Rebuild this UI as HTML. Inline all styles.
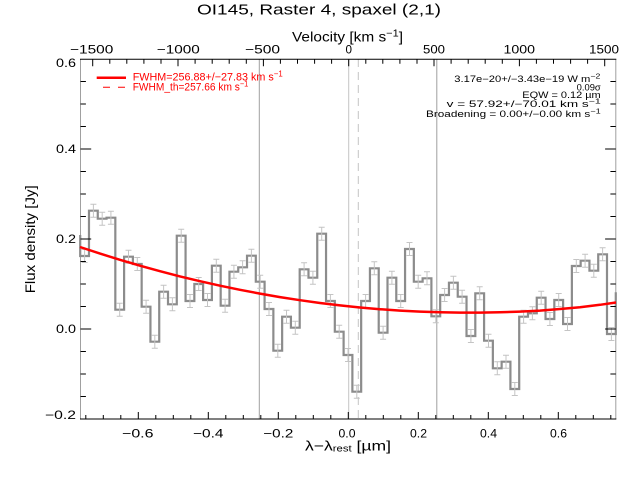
<!DOCTYPE html>
<html>
<head>
<meta charset="utf-8">
<style>
html,body{margin:0;padding:0;background:#fff;}
svg{display:block;}
text{font-family:"Liberation Sans",sans-serif;}
</style>
</head>
<body>
<svg width="640" height="480" viewBox="0 0 640 480" xmlns="http://www.w3.org/2000/svg">
<rect width="640" height="480" fill="#fff"/>

<!-- Title -->
<text x="197" y="14.5" font-size="15" textLength="244" lengthAdjust="spacingAndGlyphs">OI145, Raster 4, spaxel (2,1)</text>
<!-- Velocity label -->
<text x="292" y="41.5" font-size="14" textLength="111" lengthAdjust="spacingAndGlyphs">Velocity [km s<tspan dy="-5" font-size="10">−1</tspan><tspan dy="5">]</tspan></text>

<!-- top tick labels -->
<g font-size="12">
<text x="70" y="53.5" textLength="43.3" lengthAdjust="spacingAndGlyphs">−1500</text>
<text x="156.8" y="53.5" textLength="43" lengthAdjust="spacingAndGlyphs">−1000</text>
<text x="245" y="53.5" textLength="35" lengthAdjust="spacingAndGlyphs">−500</text>
<text x="345.5" y="53.5" textLength="6.5" lengthAdjust="spacingAndGlyphs">0</text>
<text x="423" y="53.5" textLength="22" lengthAdjust="spacingAndGlyphs">500</text>
<text x="503.5" y="53.5" textLength="31.5" lengthAdjust="spacingAndGlyphs">1000</text>
<text x="589" y="53.5" textLength="30" lengthAdjust="spacingAndGlyphs">1500</text>
</g>

<!-- bottom tick labels -->
<g font-size="12">
<text x="122" y="437.7" textLength="31.5" lengthAdjust="spacingAndGlyphs">−0.6</text>
<text x="193" y="437.7" textLength="30.5" lengthAdjust="spacingAndGlyphs">−0.4</text>
<text x="263.3" y="437.7" textLength="30" lengthAdjust="spacingAndGlyphs">−0.2</text>
<text x="338.5" y="437.7" textLength="17" lengthAdjust="spacingAndGlyphs">0.0</text>
<text x="410" y="437.7" textLength="17" lengthAdjust="spacingAndGlyphs">0.2</text>
<text x="480" y="437.7" textLength="17" lengthAdjust="spacingAndGlyphs">0.4</text>
<text x="550" y="437.7" textLength="17" lengthAdjust="spacingAndGlyphs">0.6</text>
</g>

<!-- left tick labels -->
<g font-size="12">
<text x="56" y="67" textLength="20" lengthAdjust="spacingAndGlyphs">0.6</text>
<text x="56" y="153" textLength="20" lengthAdjust="spacingAndGlyphs">0.4</text>
<text x="56" y="243" textLength="20" lengthAdjust="spacingAndGlyphs">0.2</text>
<text x="56" y="333" textLength="20" lengthAdjust="spacingAndGlyphs">0.0</text>
<text x="45" y="419" textLength="31" lengthAdjust="spacingAndGlyphs">−0.2</text>
</g>

<!-- x label -->
<text x="305" y="450.5" font-size="14" textLength="86" lengthAdjust="spacingAndGlyphs">λ−λ<tspan font-size="9" dy="1">rest</tspan><tspan dy="-1"> [µm]</tspan></text>
<!-- y label -->
<text transform="translate(35,293.3) rotate(-90)" x="0" y="0" font-size="14" textLength="108" lengthAdjust="spacingAndGlyphs">Flux density [Jy]</text>

<!-- reference vertical lines -->
<g stroke-width="1" fill="none">
<line x1="80.5" y1="59" x2="80.5" y2="419" stroke="#a0a0a0"/>
<line x1="615.8" y1="59" x2="615.8" y2="419" stroke="#a0a0a0"/>
<line x1="259.3" y1="59" x2="259.3" y2="419" stroke="#a0a0a0"/>
<line x1="436.8" y1="59" x2="436.8" y2="419" stroke="#a0a0a0"/>
<line x1="348.7" y1="59" x2="348.7" y2="419" stroke="#c4c4c4"/>
<line x1="358.3" y1="59" x2="358.3" y2="419" stroke="#c4c4c4" stroke-dasharray="8,5"/>
</g>

<!-- histogram -->
<path fill="none" stroke="#8c8c8c" stroke-width="2.2" stroke-linejoin="miter" d="M80.2,235 V256 H88.98 V210.7 H97.76 V218.7 H106.54 V217.7 H115.32 V309.7 H124.1 V256.7 H132.88 V264 H141.66 V306.7 H150.44 V341.7 H159.22 V291.7 H168 V304.3 H176.78 V235.7 H185.56 V301 H194.34 V284 H203.12 V300 H211.9 V265.7 H220.68 V305.7 H229.46 V271.7 H238.24 V267.3 H247.02 V255.7 H255.8 V281.7 H264.58 V309 H273.36 V350.7 H282.14 V316.7 H290.92 V327.7 H299.7 V269.3 H308.48 V277.7 H317.26 V233.7 H326.04 V301 H334.82 V331.7 H343.6 V355 H352.38 V391.7 H361.16 V301 H369.94 V268.3 H378.72 V332.7 H387.5 V277.7 H396.28 V301 H405.06 V249 H413.84 V281.7 H422.62 V278.3 H431.4 V316.3 H440.18 V295 H448.96 V282.7 H457.74 V296.7 H466.52 V336 H475.3 V293.3 H484.08 V340.7 H492.86 V368.3 H501.64 V361.7 H510.42 V389 H519.2 V316.7 H527.98 V313.3 H536.76 V297.7 H545.54 V319 H554.32 V300 H563.1 V324 H571.88 V266 H580.66 V260.7 H589.44 V270.7 H598.22 V254.3 H607 V334 H615.78 V292.3"/>

<!-- error bars -->
<path fill="none" stroke="#c4c4c4" stroke-width="1" d="
M84.6 249.5V262.5M81.6 249.5h6M81.6 262.5h6
M93.4 204.2V217.2M90.4 204.2h6M90.4 217.2h6
M102.2 212.2V225.2M99.2 212.2h6M99.2 225.2h6
M110.9 211.2V224.2M107.9 211.2h6M107.9 224.2h6
M119.7 303.2V316.2M116.7 303.2h6M116.7 316.2h6
M128.5 250.2V263.2M125.5 250.2h6M125.5 263.2h6
M137.3 257.5V270.5M134.3 257.5h6M134.3 270.5h6
M146.1 300.2V313.2M143.1 300.2h6M143.1 313.2h6
M154.8 335.2V348.2M151.8 335.2h6M151.8 348.2h6
M163.6 285.2V298.2M160.6 285.2h6M160.6 298.2h6
M172.4 297.8V310.8M169.4 297.8h6M169.4 310.8h6
M181.2 229.2V242.2M178.2 229.2h6M178.2 242.2h6
M190 294.5V307.5M187 294.5h6M187 307.5h6
M198.7 277.5V290.5M195.7 277.5h6M195.7 290.5h6
M207.5 293.5V306.5M204.5 293.5h6M204.5 306.5h6
M216.3 259.2V272.2M213.3 259.2h6M213.3 272.2h6
M225.1 299.2V312.2M222.1 299.2h6M222.1 312.2h6
M233.9 265.2V278.2M230.9 265.2h6M230.9 278.2h6
M242.6 260.8V273.8M239.6 260.8h6M239.6 273.8h6
M251.4 249.2V262.2M248.4 249.2h6M248.4 262.2h6
M260.2 275.2V288.2M257.2 275.2h6M257.2 288.2h6
M269 302.5V315.5M266 302.5h6M266 315.5h6
M277.8 344.2V357.2M274.8 344.2h6M274.8 357.2h6
M286.5 310.2V323.2M283.5 310.2h6M283.5 323.2h6
M295.3 321.2V334.2M292.3 321.2h6M292.3 334.2h6
M304.1 262.8V275.8M301.1 262.8h6M301.1 275.8h6
M312.9 271.2V284.2M309.9 271.2h6M309.9 284.2h6
M321.7 227.2V240.2M318.7 227.2h6M318.7 240.2h6
M330.4 294.5V307.5M327.4 294.5h6M327.4 307.5h6
M339.2 325.2V338.2M336.2 325.2h6M336.2 338.2h6
M348 348.5V361.5M345 348.5h6M345 361.5h6
M356.8 385.2V398.2M353.8 385.2h6M353.8 398.2h6
M365.6 294.5V307.5M362.6 294.5h6M362.6 307.5h6
M374.3 261.8V274.8M371.3 261.8h6M371.3 274.8h6
M383.1 326.2V339.2M380.1 326.2h6M380.1 339.2h6
M391.9 271.2V284.2M388.9 271.2h6M388.9 284.2h6
M400.7 294.5V307.5M397.7 294.5h6M397.7 307.5h6
M409.5 242.5V255.5M406.5 242.5h6M406.5 255.5h6
M418.2 275.2V288.2M415.2 275.2h6M415.2 288.2h6
M427 271.8V284.8M424 271.8h6M424 284.8h6
M435.8 309.8V322.8M432.8 309.8h6M432.8 322.8h6
M444.6 288.5V301.5M441.6 288.5h6M441.6 301.5h6
M453.4 276.2V289.2M450.4 276.2h6M450.4 289.2h6
M462.1 290.2V303.2M459.1 290.2h6M459.1 303.2h6
M470.9 329.5V342.5M467.9 329.5h6M467.9 342.5h6
M479.7 286.8V299.8M476.7 286.8h6M476.7 299.8h6
M488.5 334.2V347.2M485.5 334.2h6M485.5 347.2h6
M497.3 361.8V374.8M494.3 361.8h6M494.3 374.8h6
M506 355.2V368.2M503 355.2h6M503 368.2h6
M514.8 382.5V395.5M511.8 382.5h6M511.8 395.5h6
M523.6 310.2V323.2M520.6 310.2h6M520.6 323.2h6
M532.4 306.8V319.8M529.4 306.8h6M529.4 319.8h6
M541.2 291.2V304.2M538.2 291.2h6M538.2 304.2h6
M549.9 312.5V325.5M546.9 312.5h6M546.9 325.5h6
M558.7 293.5V306.5M555.7 293.5h6M555.7 306.5h6
M567.5 317.5V330.5M564.5 317.5h6M564.5 330.5h6
M576.3 259.5V272.5M573.3 259.5h6M573.3 272.5h6
M585.1 254.2V267.2M582.1 254.2h6M582.1 267.2h6
M593.8 264.2V277.2M590.8 264.2h6M590.8 277.2h6
M602.6 247.8V260.8M599.6 247.8h6M599.6 260.8h6
M611.4 327.5V340.5M608.4 327.5h6M608.4 340.5h6"/>

<!-- red fit -->
<polyline fill="none" stroke="#ff0000" stroke-width="2.5" points="80,247 100,253.6 120,259.8 140,265.7 160,271.2 180,276.4 200,281.2 220,285.7 240,289.8 260,293.6 280,297.1 300,300.2 320,303 340,305.4 360,307.5 380,309.2 400,310.6 420,311.6 440,312.3 460,312.66 480,312.66 500,312.3 520,311.6 540,310.6 560,309 580,307.2 600,304.8 616,302.5"/>

<!-- axes -->
<g stroke="#000" stroke-width="1" fill="none">
<line x1="80" y1="59.3" x2="616.3" y2="59.3"/>
<line x1="80" y1="419" x2="616.3" y2="419"/>
<!-- left ticks -->
<path d="M80.5 396.5h5.4M80.5 374h5.4M80.5 351.5h5.4M80.5 329h10.7M80.5 306.5h5.4M80.5 284h5.4M80.5 261.5h5.4M80.5 239h10.7M80.5 216.5h5.4M80.5 194h5.4M80.5 171.5h5.4M80.5 149h10.7M80.5 126.5h5.4M80.5 104h5.4M80.5 81.5h5.4"/>
<!-- right ticks -->
<path d="M615.8 396.5h-5.4M615.8 374h-5.4M615.8 351.5h-5.4M615.8 329h-10.7M615.8 306.5h-5.4M615.8 284h-5.4M615.8 261.5h-5.4M615.8 239h-10.7M615.8 216.5h-5.4M615.8 194h-5.4M615.8 171.5h-5.4M615.8 149h-10.7M615.8 126.5h-5.4M615.8 104h-5.4M615.8 81.5h-5.4"/>
<!-- bottom ticks -->
<path d="M85.8 419v-4M103.3 419v-4M120.8 419v-4M138.3 419v-7M155.8 419v-4M173.3 419v-4M190.8 419v-4M208.3 419v-7M225.8 419v-4M243.3 419v-4M260.8 419v-4M278.3 419v-7M295.8 419v-4M313.3 419v-4M330.8 419v-4M348.3 419v-7M365.8 419v-4M383.3 419v-4M400.8 419v-4M418.3 419v-7M435.8 419v-4M453.3 419v-4M470.8 419v-4M488.3 419v-7M505.8 419v-4M523.3 419v-4M540.8 419v-4M558.3 419v-7M575.8 419v-4M593.3 419v-4M610.8 419v-4"/>
<!-- top ticks -->
<path d="M92.7 59.3v7M109.8 59.3v4.5M126.8 59.3v4.5M143.9 59.3v4.5M161 59.3v4.5M178 59.3v7M195.1 59.3v4.5M212.2 59.3v4.5M229.2 59.3v4.5M246.3 59.3v4.5M263.4 59.3v7M280.4 59.3v4.5M297.5 59.3v4.5M314.6 59.3v4.5M331.6 59.3v4.5M348.7 59.3v7M365.8 59.3v4.5M382.8 59.3v4.5M399.9 59.3v4.5M417 59.3v4.5M434 59.3v7M451.1 59.3v4.5M468.2 59.3v4.5M485.2 59.3v4.5M502.3 59.3v4.5M519.4 59.3v7M536.4 59.3v4.5M553.5 59.3v4.5M570.6 59.3v4.5M587.6 59.3v4.5M604.7 59.3v7"/>
</g>

<!-- legend -->
<line x1="96.7" y1="77.7" x2="126" y2="77.7" stroke="#ff0000" stroke-width="2.5"/>
<text x="132.7" y="80.7" font-size="11" fill="#ff0000" textLength="150" lengthAdjust="spacingAndGlyphs">FWHM=256.88+/−27.83 km s<tspan dy="-4" font-size="8">−1</tspan></text>
<line x1="103" y1="87.3" x2="125" y2="87.3" stroke="#ff0000" stroke-width="1" stroke-dasharray="7,8"/>
<text x="132.7" y="90.7" font-size="11" fill="#ff0000" textLength="115.6" lengthAdjust="spacingAndGlyphs">FWHM_th=257.66 km s<tspan dy="-4" font-size="8">−1</tspan></text>

<!-- annotations -->
<g font-size="9" fill="#000">
<text x="454.3" y="82" textLength="146" lengthAdjust="spacingAndGlyphs">3.17e−20+/−3.43e−19 W m<tspan dy="-3.5" font-size="7">−2</tspan></text>
<text x="576.7" y="90.3" textLength="24" lengthAdjust="spacingAndGlyphs">0.09σ</text>
<text x="522.3" y="98" textLength="78.4" lengthAdjust="spacingAndGlyphs">EQW = 0.12 µm</text>
<text x="446.7" y="107" textLength="154" lengthAdjust="spacingAndGlyphs">v = 57.92+/−70.01 km s<tspan dy="-3.5" font-size="7">−1</tspan></text>
<text x="426" y="117" textLength="174.7" lengthAdjust="spacingAndGlyphs">Broadening = 0.00+/−0.00 km s<tspan dy="-3.5" font-size="7">−1</tspan></text>
</g>
</svg>
</body>
</html>
